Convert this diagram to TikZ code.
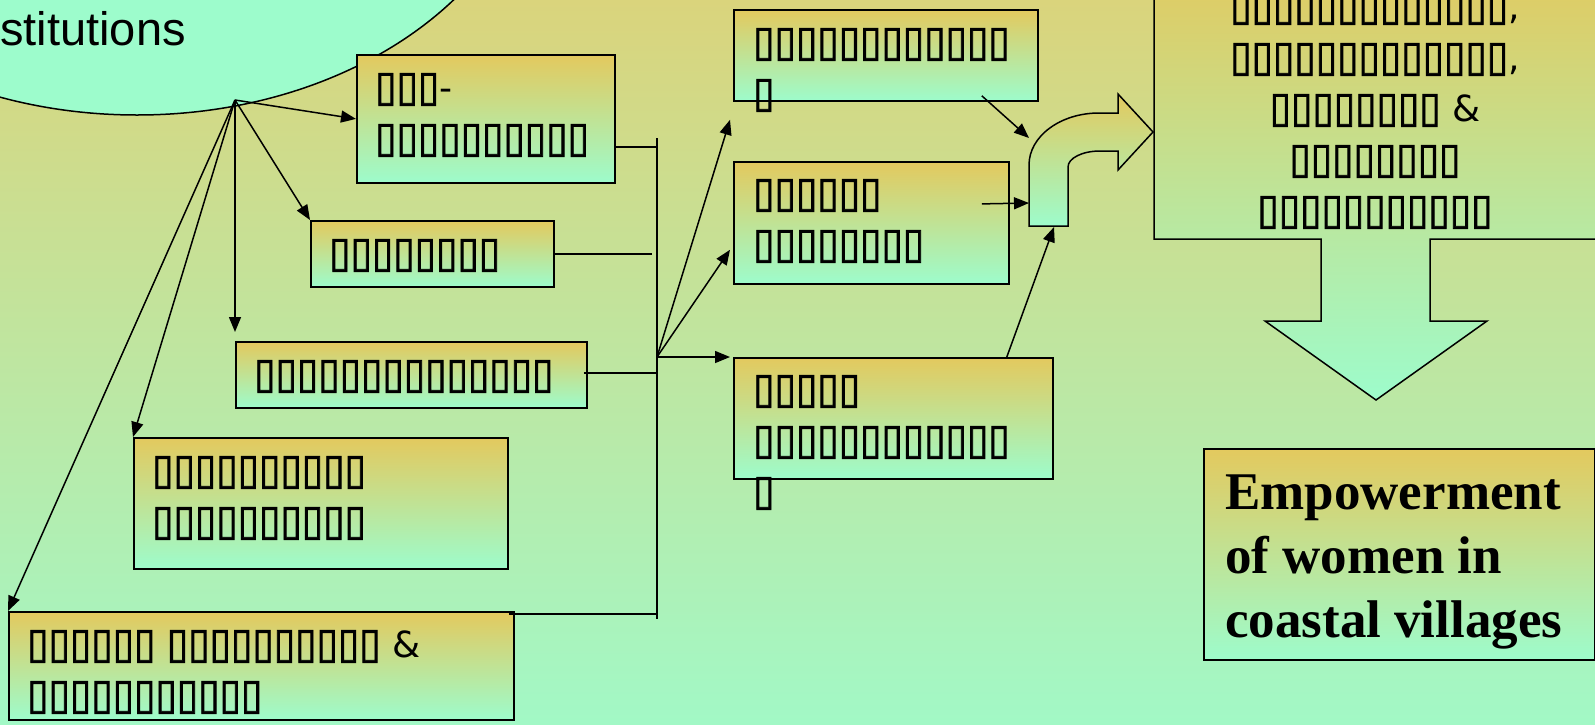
\documentclass[tikz,border=0pt]{standalone}
\usepackage{fontspec}
\setmainfont{Liberation Serif}
\newfontfamily\boxfont{DejaVu Sans}
\newfontfamily\tofufont{DejaVu Sans}[Scale=1.18, FakeStretch=0.915, FakeBold=2]
\newfontfamily\instfont{Liberation Sans}
\newcommand\tofu[1]{{\tofufont#1}}
\usetikzlibrary{arrows.meta, shapes.geometric, positioning}

\definecolor{bgtop}{RGB}{218,212,124}
\definecolor{bgbot}{RGB}{162,248,198}
\definecolor{gold}{RGB}{227,201,94}
\definecolor{mint}{RGB}{157,252,204}

\tikzset{
  gbox/.style={draw, line width=1.8pt, top color=gold, bottom color=mint, anchor=north west, inner sep=0pt},
  btext/.style={anchor=north west, inner sep=0pt, align=left, font=\boxfont\fontsize{36}{51}\selectfont},
  link/.style={line width=1.5pt},
  arr/.style={link, -{Triangle[length=15pt,width=12pt]}},
}

\begin{document}
\begin{tikzpicture}[x=1pt, y=-1pt]
  \useasboundingbox (0,0) rectangle (1595,724);
  \clip (0,0) rectangle (1595,724);
  % background
  \shade[top color=bgtop, bottom color=bgbot] (0,0) rectangle (1595,724);

  % institutions
  \node[ellipse, draw, link, fill=mint, minimum width=804pt, minimum height=600pt, inner sep=0pt] (inst) at (137,-185) {};
  \node[anchor=base west, inner sep=0pt, font=\instfont\fontsize{47}{56}\selectfont] (instText) at (0,45) {stitutions};
  \coordinate (src) at (235,100);

  % left column
  \node[gbox, minimum width=258pt, minimum height=128pt] (boxA) at (356,54) {};
  \node[gbox, minimum width=243pt, minimum height=66pt] (boxB) at (310,220) {};
  \node[gbox, minimum width=351pt, minimum height=66pt] (boxC) at (235,341) {};
  \node[gbox, minimum width=374pt, minimum height=131pt] (boxD) at (133,437) {};
  \node[gbox, minimum width=505pt, minimum height=108pt] (boxE) at (8,611) {};

  \node[btext] (textA) at ([xshift=19pt,yshift=-19pt]boxA.north west) {\tofu{▯▯▯}-\\\tofu{▯▯▯▯▯▯▯▯▯▯}};
  \node[btext] (textB) at ([xshift=19pt,yshift=-19pt]boxB.north west) {\tofu{▯▯▯▯▯▯▯▯}};
  \node[btext] (textC) at ([xshift=19pt,yshift=-19pt]boxC.north west) {\tofu{▯▯▯▯▯▯▯▯▯▯▯▯▯▯}};
  \node[btext] (textD) at ([xshift=19pt,yshift=-19pt]boxD.north west) {\tofu{▯▯▯▯▯▯▯▯▯▯}\\\tofu{▯▯▯▯▯▯▯▯▯▯}};
  \node[btext] (textE) at ([xshift=19pt,yshift=-19pt]boxE.north west) {\tofu{▯▯▯▯▯▯} \tofu{▯▯▯▯▯▯▯▯▯▯} \&\\\tofu{▯▯▯▯▯▯▯▯▯▯▯}};

  % middle column
  \node[gbox, minimum width=304pt, minimum height=91pt] (boxF) at (733,9) {};
  \node[gbox, minimum width=275pt, minimum height=122pt] (boxG) at (733,161) {};
  \node[gbox, minimum width=319pt, minimum height=121pt] (boxH) at (733,357) {};

  \node[btext] (textF) at ([xshift=20pt,yshift=-19pt]boxF.north west) {\tofu{▯▯▯▯▯▯▯▯▯▯▯▯}\\\tofu{▯}};
  \node[btext] (textG) at ([xshift=20pt,yshift=-18pt]boxG.north west) {\tofu{▯▯▯▯▯▯}\\\tofu{▯▯▯▯▯▯▯▯}};
  \node[btext] (textH) at ([xshift=20pt,yshift=-18pt]boxH.north west) {\tofu{▯▯▯▯▯}\\\tofu{▯▯▯▯▯▯▯▯▯▯▯▯}\\\tofu{▯}};

  % bent arrow
  \draw[link, top color=gold, bottom color=mint] (1029,226) -- (1029,165)
    arc[start angle=180, end angle=270, x radius=70, y radius=52] -- (1118,113) -- (1118,94)
    -- (1153,132) -- (1118,170) -- (1118,151) -- (1100,151)
    arc[start angle=270, end angle=180, x radius=32, y radius=16] -- (1068,226) -- cycle;
  \coordinate (bendF) at (1029,138);
  \coordinate (bendG) at (1029,203);
  \coordinate (bendH) at (1054,227);

  % goals callout
  \draw[link, top color=gold, bottom color=mint] (1154,-40) -- (1154,239) -- (1321,239) -- (1321,321)
    -- (1265,321) -- (1376,400) -- (1487,321) -- (1430,321) -- (1430,239) -- (1600,239) -- (1600,-40) -- cycle;
  \node[btext, anchor=north, align=center] (goals) at (1375,-8)
    {\tofu{▯▯▯▯▯▯▯▯▯▯▯▯▯},\\\tofu{▯▯▯▯▯▯▯▯▯▯▯▯▯},\\\tofu{▯▯▯▯▯▯▯▯} \&\\\tofu{▯▯▯▯▯▯▯▯}\\\tofu{▯▯▯▯▯▯▯▯▯▯▯}};

  % result
  \node[gbox, minimum width=391pt, minimum height=211pt] (emp) at (1203,448) {};
  \node[anchor=north west, inner sep=0pt, align=left, font=\bfseries\fontsize{53}{64}\selectfont] (empText)
    at ([xshift=22pt,yshift=-27pt]emp.north west) {Empowerment\\of women in\\coastal villages};

  % links from institutions
  \draw[arr] (src) -- (boxA.west);
  \draw[arr] (src) -- (boxB.north west);
  \draw[arr] (src) -- ([yshift=9pt]boxC.north west);
  \draw[arr] (src) -- (boxD.north west);
  \draw[arr] (src) -- (boxE.north west);

  % bus
  \coordinate (busTop) at (657,138);
  \coordinate (busBot) at (657,619);
  \coordinate (bus) at (657,357);
  \draw[link] (busTop) -- (busBot);
  \draw[link] ([yshift=-28pt]boxA.east) -- ([yshift=-28pt]boxA.east -| bus);
  \draw[link] (boxB.east) -- ([xshift=-5pt]boxB.east -| bus);
  \draw[link] ([xshift=-4pt,yshift=2pt]boxC.east) -- ([yshift=2pt]boxC.east -| bus);
  \draw[link] ([xshift=-6pt,yshift=-3pt]boxE.north east) -- ([yshift=-3pt]boxE.north east -| bus);

  \draw[arr] (bus) -- ([xshift=-3pt,yshift=-18pt]boxF.south west);
  \draw[arr] (bus) -- ([xshift=-3pt,yshift=35pt]boxG.south west);
  \draw[arr] (bus) -- ([xshift=-3pt]boxH.north west);

  \draw[arr] ([xshift=-57pt,yshift=6pt]boxF.south east) -- (bendF);
  \draw[arr] ([xshift=-28pt,yshift=19pt]boxG.east) -- (bendG);
  \draw[arr] ([xshift=-47pt]boxH.north east) -- (bendH);
\end{tikzpicture}
\end{document}
